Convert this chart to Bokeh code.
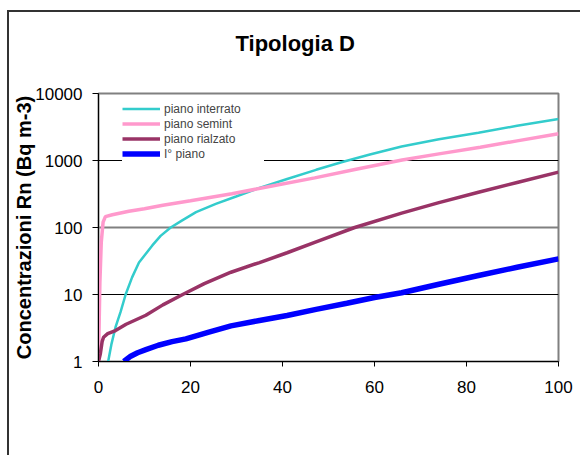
from bokeh.plotting import figure
from bokeh.models import FixedTicker, Legend, LegendItem, Grid, NumeralTickFormatter, Title
from bokeh.embed import file_html
from bokeh.resources import INLINE

# ---- data ----
x_ticks = [0, 20, 40, 60, 80, 100]
y_ticks = [1, 10, 100, 1000, 10000]

interrato_x = [2.1, 2.8, 3.7, 4.8, 5.9, 7.3, 8.8, 11.7, 13.5, 15.7, 18.2, 21.2, 25.5, 29.9, 35, 41, 47.3, 53, 59, 65.9, 74, 82.6, 91, 100]
interrato_y = [1, 1.8, 3.25, 5.5, 10, 18, 30, 54, 75, 100, 128, 170, 225, 290, 390, 530, 726, 950, 1230, 1618, 2080, 2590, 3300, 4150]

semint_x = [0, 0.3, 0.6, 1.0, 1.5, 3, 6.6, 10, 14, 20, 29, 38, 47, 56, 66, 74, 83, 91, 100]
semint_y = [1, 15, 60, 120, 145, 155, 175, 190, 215, 250, 318, 420, 550, 740, 1020, 1256, 1580, 1964, 2500]

rialzato_x = [0, 0.4, 0.8, 1.1, 2, 3.7, 6, 10.3, 14, 18.3, 23, 28.8, 35, 41, 47.3, 55.7, 65.9, 74, 82.6, 91, 100]
rialzato_y = [1, 1.3, 2.0, 2.3, 2.6, 2.9, 3.6, 4.9, 7.0, 10, 14.5, 21.5, 30, 42, 61, 100, 164, 235, 336, 470, 670]

primo_x = [5.5, 7, 8.5, 10.3, 13, 16, 19, 24, 28.8, 35, 41, 47.3, 54, 60, 65.9, 74, 82.6, 91, 100]
primo_y = [1, 1.2, 1.35, 1.5, 1.75, 1.98, 2.18, 2.75, 3.4, 4.1, 4.85, 6.0, 7.4, 9.0, 10.6, 14.2, 19.2, 25.5, 34]

series_names = ["piano interrato", "piano semint", "piano rialzato", "I° piano"]
title_text = "Tipologia D"
y_label_text = "Concentrazioni Rn (Bq m-3)"

FONT = "Liberation Sans"

W, H = 573, 445
p = figure(width=W, height=H, y_axis_type="log", x_range=(0, 100), y_range=(1, 10000),
           output_backend="svg", toolbar_location=None,
           min_border_left=89, min_border_right=24, min_border_top=81, min_border_bottom=96)
p.styles = {"margin-left": "7px", "margin-top": "10px",
            "border-left": "2px solid #333333", "border-top": "2px solid #333333"}
p.background_fill_color = "white"
p.border_fill_color = "white"
p.outline_line_color = "#808080"
p.outline_line_width = 2

p.title.text = ""
p.title.standoff = 0
# spacer (closest to the frame) then the real title above it
p.add_layout(Title(text=" ", text_font=FONT, text_font_size="22px", standoff=6), "above")
p.add_layout(Title(text=title_text, align="left", offset=137, standoff=10, vertical_align="bottom",
                   text_font=FONT, text_font_size="22px", text_font_style="bold", text_color="black"), "above")

# axes
p.xaxis.ticker = FixedTicker(ticks=x_ticks)
p.yaxis.ticker = FixedTicker(ticks=y_ticks)
p.yaxis.formatter = NumeralTickFormatter(format="0")
for ax in (p.xaxis[0], p.yaxis[0]):
    ax.axis_line_color = "black"
    ax.axis_line_width = 1
    ax.major_tick_line_color = "black"
    ax.major_tick_in = 0
    ax.minor_tick_line_color = None
    ax.major_label_text_font = FONT
    ax.major_label_text_font_size = "17px"
    ax.major_label_text_color = "black"
p.xaxis.major_tick_out = 5
p.xaxis.major_label_standoff = 14
p.yaxis.major_tick_out = 6
p.yaxis.major_label_standoff = 10
p.yaxis.axis_label = y_label_text
p.yaxis.axis_label_text_font = FONT
p.yaxis.axis_label_text_font_size = "20px"
p.yaxis.axis_label_text_font_style = "bold"
p.yaxis.axis_label_text_color = "black"
p.yaxis.axis_label_standoff = -3

# grids
p.xgrid.visible = False
p.ygrid.ticker = FixedTicker(ticks=[10, 1000])
p.ygrid.grid_line_color = "black"
p.ygrid.grid_line_width = 1
g2 = Grid(dimension=1, ticker=FixedTicker(ticks=[100]), grid_line_color="#808080", grid_line_width=2)
p.add_layout(g2)

r1 = p.line(interrato_x, interrato_y, line_color="#33CCCC", line_width=2.5)
r2 = p.line(semint_x, semint_y, line_color="#FF99CC", line_width=3.5)
r3 = p.line(rialzato_x, rialzato_y, line_color="#993366", line_width=3.5)
r4 = p.line(primo_x, primo_y, line_color="#0000FF", line_width=5.5)

legend = Legend(items=[LegendItem(label=n, renderers=[r]) for n, r in zip(series_names, [r1, r2, r3, r4])],
                location=(24, 200), padding=3, spacing=0, margin=0,
                glyph_width=38, glyph_height=15, label_height=15, label_width=100, label_standoff=4,
                label_text_font=FONT, label_text_font_size="12px",
                background_fill_color="white", background_fill_alpha=1.0, border_line_color=None)
p.add_layout(legend)

open("out.html", "w").write(file_html(p, INLINE))
